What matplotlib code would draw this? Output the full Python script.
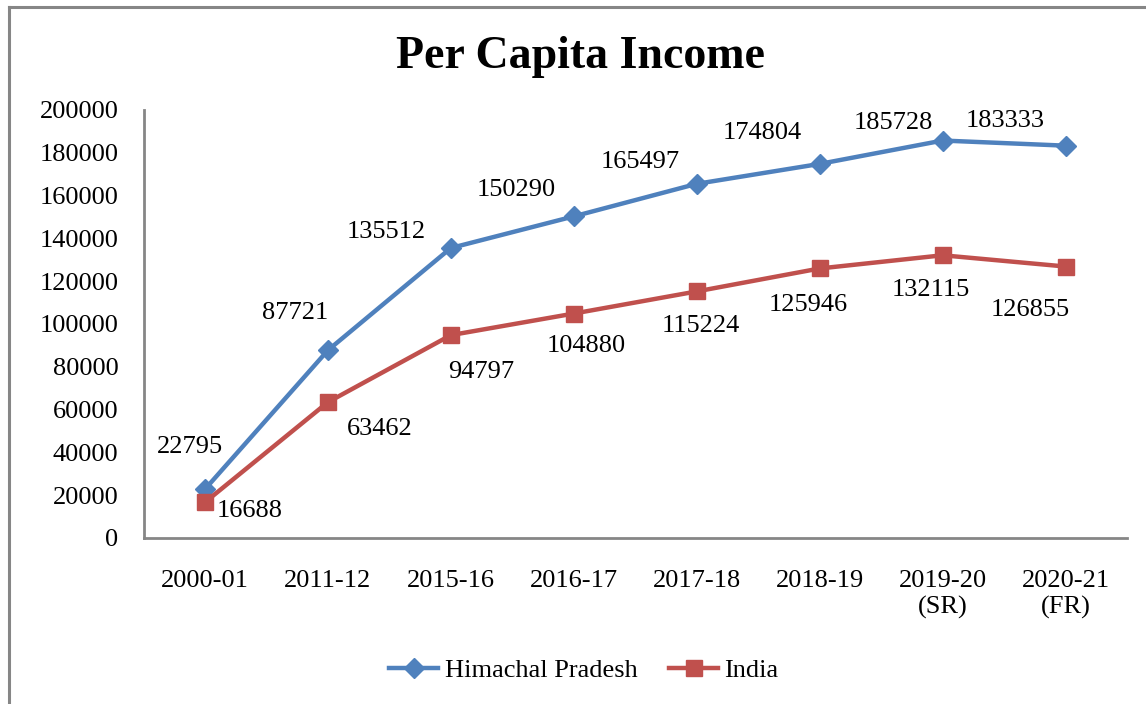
import matplotlib
matplotlib.use("Agg")
import matplotlib.pyplot as plt
from matplotlib.lines import Line2D

categories = ["2000-01", "2011-12", "2015-16", "2016-17", "2017-18", "2018-19", "2019-20\n(SR)", "2020-21\n(FR)"]
himachal = [22795, 87721, 135512, 150290, 165497, 174804, 185728, 183333]
india = [16688, 63462, 94797, 104880, 115224, 125946, 132115, 126855]
yticks = [0, 20000, 40000, 60000, 80000, 100000, 120000, 140000, 160000, 180000, 200000]

# label offsets in pixels (layout only)
hp_off = [(-15, 42), (-33, 37), (-65, 16), (-58, 26), (-56, 22), (-57, 31), (-49, 18), (-60, 25)]
in_off = [(45, -9), (52, -27), (30, -37), (12, -32), (4, -35), (-11, -37), (-12, -35), (-35, -43)]

plt.rcParams['font.family'] = ['Liberation Serif', 'DejaVu Serif']
W, H = 1146, 704
fig = plt.figure(figsize=(W/100, H/100), dpi=100)

# outer frame (top and left visible)
fig.add_artist(Line2D([9/W, 9/W], [0, 1 - 7/H], transform=fig.transFigure, color='#868686', lw=2.2))
fig.add_artist(Line2D([9/W, 1], [1 - 7/H, 1 - 7/H], transform=fig.transFigure, color='#868686', lw=2.2))

left, right, top, bottom = 143.5, 1127, 110, 538
ax = fig.add_axes([left/W, 1 - bottom/H, (right-left)/W, (bottom-top)/H])
x = list(range(len(categories)))
blue = '#4F81BD'
red = '#C0504D'
ax.plot(x, himachal, color=blue, lw=3.2, marker='D', markersize=10.5, label='Himachal Pradesh', zorder=3)
ax.plot(x, india, color=red, lw=3.2, marker='s', markersize=12, label='India', zorder=3)

for xi, v, (dx, dy) in zip(x, himachal, hp_off):
    ax.annotate(str(v), (xi, v), xytext=(dx, dy), textcoords='offset pixels',
                ha='center', va='center', fontsize=19, color='black')
for xi, v, (dx, dy) in zip(x, india, in_off):
    ax.annotate(str(v), (xi, v), xytext=(dx, dy), textcoords='offset pixels',
                ha='center', va='center', fontsize=19, color='black')

ax.set_xlim(-0.5, len(categories) - 0.5)
ax.set_ylim(0, 200000)
ax.set_yticks(yticks)
ax.set_yticklabels([str(t) for t in yticks], fontsize=19)
ax.set_xticks(x)
ax.set_xticklabels(categories, fontsize=19, linespacing=1.2)
ax.tick_params(axis='both', length=0)
ax.tick_params(axis='y', pad=18)
ax.tick_params(axis='x', pad=23)
for s in ['top', 'right']:
    ax.spines[s].set_visible(False)
for s in ['left', 'bottom']:
    ax.spines[s].set_color('#868686')
    ax.spines[s].set_linewidth(2.0)

fig.text(581/W, 1 - 57/H, "Per Capita Income", ha='center', va='center', fontsize=33, fontweight='bold')

leg = fig.legend(loc='center', bbox_to_anchor=(584/W, 1 - 670/H), ncol=2, frameon=False,
                 fontsize=19, handlelength=1.85, handletextpad=0.25, columnspacing=1.2)

fig.savefig("out.png", dpi=100)
